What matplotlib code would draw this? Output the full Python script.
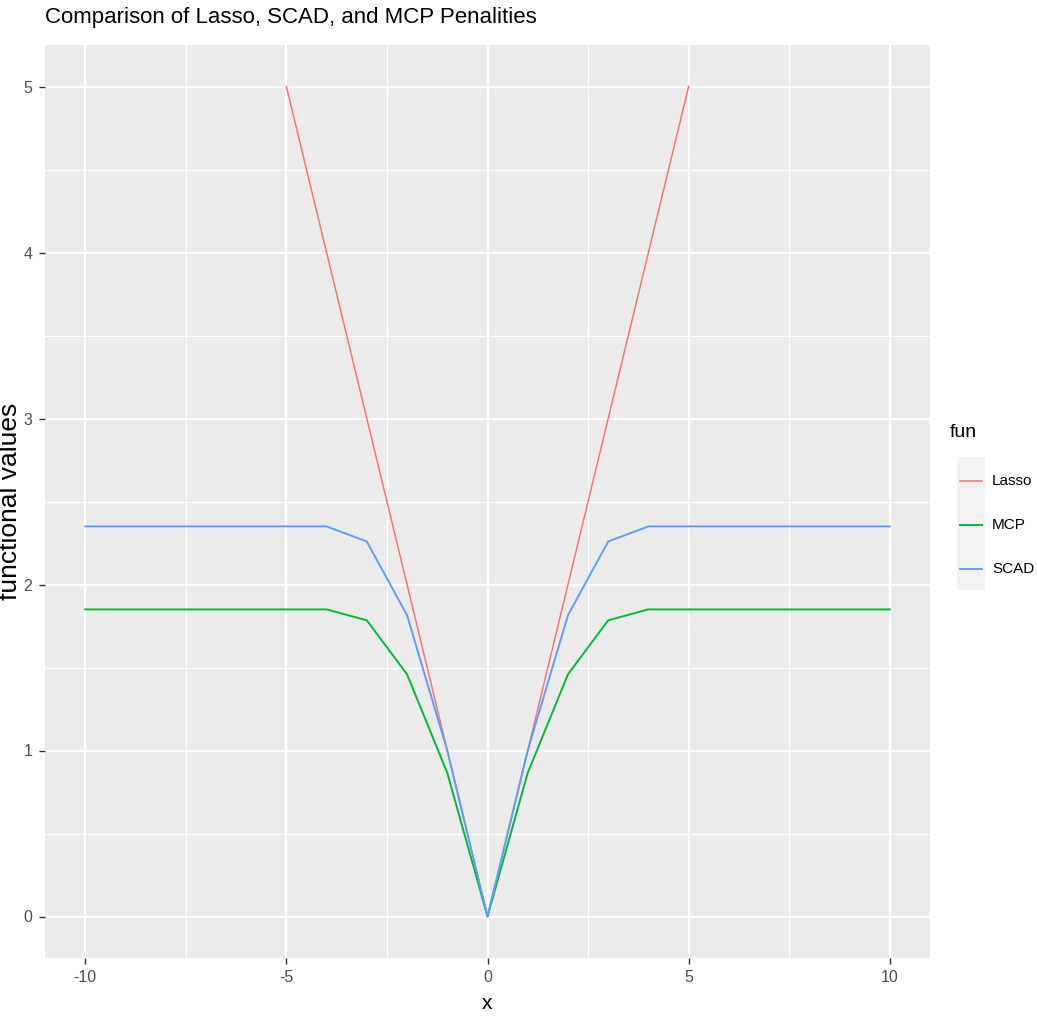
import matplotlib.pyplot as plt
from matplotlib.lines import Line2D
from matplotlib.patches import Rectangle
from matplotlib.ticker import MultipleLocator

# values (integer grid of x)
x_lasso = [-5, -4, -3, -2, -1, 0, 1, 2, 3, 4, 5]
y_lasso = [5, 4, 3, 2, 1, 0, 1, 2, 3, 4, 5]

x_full = list(range(-10, 11))
y_mcp = [1.85, 1.85, 1.85, 1.85, 1.85, 1.85, 1.85, 1.784, 1.459, 0.865, 0.0,
         0.865, 1.459, 1.784, 1.85, 1.85, 1.85, 1.85, 1.85, 1.85, 1.85]
y_scad = [2.35, 2.35, 2.35, 2.35, 2.35, 2.35, 2.35, 2.259, 1.815, 1.0, 0.0,
          1.0, 1.815, 2.259, 2.35, 2.35, 2.35, 2.35, 2.35, 2.35, 2.35]

series = [('Lasso', x_lasso, y_lasso, '#F8766D', 1.1),
          ('MCP', x_full, y_mcp, '#00BA38', 1.4),
          ('SCAD', x_full, y_scad, '#619CFF', 1.4)]

plt.rcParams['font.family'] = ['Liberation Sans', 'DejaVu Sans']
plt.rcParams['axes.unicode_minus'] = False

W, H = 1037, 1028
fig = plt.figure(figsize=(W / 100, H / 100), dpi=100)
ax = fig.add_axes([45 / W, 1 - 958 / H, (930 - 45) / W, (958 - 45) / H])
ax.set_facecolor('#EBEBEB')

ax.xaxis.set_major_locator(MultipleLocator(5))
ax.xaxis.set_minor_locator(MultipleLocator(2.5))
ax.yaxis.set_major_locator(MultipleLocator(1))
ax.yaxis.set_minor_locator(MultipleLocator(0.5))
ax.grid(which='major', color='white', linewidth=1.6)
ax.grid(which='minor', color='white', linewidth=0.8)
ax.set_axisbelow(True)
for s in ax.spines.values():
    s.set_visible(False)

for name, xs, ys, col, lw in series:
    ax.plot(xs, ys, color=col, linewidth=lw, label=name)

ax.set_xlim(-11, 11)
ax.set_ylim(-0.25, 5.25)
ax.tick_params(which='major', length=4, width=1, color='#333333',
               labelcolor='#4D4D4D', labelsize=11.5, pad=5)
ax.tick_params(which='minor', length=0)

ax.set_xlabel('x', fontsize=15, labelpad=6)
ax.set_ylabel('functional values', fontsize=19)
ax.yaxis.set_label_coords(-23 / 885, 0.5)
fig.text(45 / W, 1 - 18 / H, 'Comparison of Lasso, SCAD, and MCP Penalities',
         fontsize=16, va='center', ha='left')

# legend drawn in figure pixels, ggplot style
fig.text(950 / W, 1 - 432 / H, 'fun', fontsize=14, va='center', ha='left')
fig.patches.append(Rectangle((957 / W, 1 - 590 / H), 28 / W, 133 / H,
                             transform=fig.transFigure, facecolor='#F2F2F2',
                             edgecolor='none'))
key_y = [481, 525, 569]
for (name, xs, ys, col, lw), ky in zip(series, key_y):
    fig.lines.append(Line2D([960 / W, 982 / W], [1 - ky / H, 1 - ky / H],
                            transform=fig.transFigure, color=col, linewidth=lw))
    fig.text(992 / W, 1 - ky / H, name, fontsize=11, va='center', ha='left')

fig.savefig('out.png', dpi=100)
